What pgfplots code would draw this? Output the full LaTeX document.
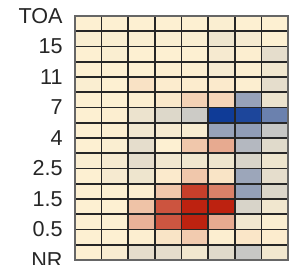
\documentclass[border=0pt]{standalone}
\usepackage{pgfplots}
\pgfplotsset{compat=1.18}
\usepackage{pgfplotstable}
\usepackage{fontspec}
\setmainfont{Liberation Sans}
\pgfplotstableread{
x y c
0.5 0.5 0
1.5 0.5 -0.02
2.5 0.5 -0.1
3.5 0.5 -0.1
4.5 0.5 -0.05
5.5 0.5 -0.12
6.5 0.5 -0.22
7.5 0.5 -0.05
0.5 1.5 0
1.5 1.5 0
2.5 1.5 0.01
3.5 1.5 0.06
4.5 1.5 0.18
5.5 1.5 0.01
6.5 1.5 0.05
7.5 1.5 0.02
0.5 2.5 0
1.5 2.5 0
2.5 2.5 0.3
3.5 2.5 0.75
4.5 2.5 1.0
5.5 2.5 0.34
6.5 2.5 -0.05
7.5 2.5 -0.01
0.5 3.5 0
1.5 3.5 0
2.5 3.5 0.22
3.5 3.5 0.76
4.5 3.5 1.0
5.5 3.5 1.0
6.5 3.5 -0.15
7.5 3.5 -0.05
0.5 4.5 0
1.5 4.5 0
2.5 4.5 0.01
3.5 4.5 0.2
4.5 4.5 0.86
5.5 4.5 0.54
6.5 4.5 -0.43
7.5 4.5 -0.14
0.5 5.5 0
1.5 5.5 -0.03
2.5 5.5 -0.06
3.5 5.5 0.03
4.5 5.5 0.2
5.5 5.5 0.06
6.5 5.5 -0.4
7.5 5.5 -0.1
0.5 6.5 -0.01
1.5 6.5 -0.03
2.5 6.5 -0.1
3.5 6.5 -0.05
4.5 6.5 -0.05
5.5 6.5 -0.06
6.5 6.5 -0.15
7.5 6.5 -0.06
0.5 7.5 0
1.5 7.5 -0.01
2.5 7.5 -0.1
3.5 7.5 0
4.5 7.5 0.2
5.5 7.5 0.34
6.5 7.5 -0.3
7.5 7.5 -0.12
0.5 8.5 0
1.5 8.5 0.01
2.5 8.5 -0.05
3.5 8.5 -0.03
4.5 8.5 -0.02
5.5 8.5 -0.42
6.5 8.5 -0.45
7.5 8.5 -0.22
0.5 9.5 0
1.5 9.5 0.01
2.5 9.5 -0.07
3.5 9.5 -0.13
4.5 9.5 -0.2
5.5 9.5 -0.98
6.5 9.5 -0.92
7.5 9.5 -0.6
0.5 10.5 0
1.5 10.5 0
2.5 10.5 0.01
3.5 10.5 0.04
4.5 10.5 0.15
5.5 10.5 0.13
6.5 10.5 -0.42
7.5 10.5 -0.07
0.5 11.5 -0.01
1.5 11.5 0
2.5 11.5 0.07
3.5 11.5 0.02
4.5 11.5 0.02
5.5 11.5 0.03
6.5 11.5 0.01
7.5 11.5 -0.1
0.5 12.5 0
1.5 12.5 0
2.5 12.5 0
3.5 12.5 0.01
4.5 12.5 0.01
5.5 12.5 -0.03
6.5 12.5 0.01
7.5 12.5 -0.05
0.5 13.5 0
1.5 13.5 -0.01
2.5 13.5 0
3.5 13.5 0
4.5 13.5 0
5.5 13.5 -0.03
6.5 13.5 0.01
7.5 13.5 -0.1
0.5 14.5 -0.01
1.5 14.5 -0.01
2.5 14.5 -0.01
3.5 14.5 -0.01
4.5 14.5 -0.01
5.5 14.5 -0.06
6.5 14.5 -0.03
7.5 14.5 0
0.5 15.5 0
1.5 15.5 0
2.5 15.5 0
3.5 15.5 0
4.5 15.5 0
5.5 15.5 -0.01
6.5 15.5 0
7.5 15.5 0
}\heat
\begin{document}
\begin{tikzpicture}
\begin{axis}[
  scale only axis,
  width=106.5pt, height=122pt,
  xmin=0, xmax=8, ymin=0, ymax=16,
  colormap={div}{rgb255(0cm)=(10,55,150); rgb255(1cm)=(253,240,210); rgb255(2cm)=(189,34,16)},
  point meta min=-1, point meta max=1,
  xtick={0,...,8}, xticklabels={},
  ytick={0,...,16},
  yticklabels={NR,,0.5,,1.5,,2.5,,4,,7,,11,,15,,TOA},
  major tick length=0pt,
  grid=major,
  major grid style={black!85, line width=0.8pt},
  axis line style={black!60, line width=0.8pt},
  axis on top,
  tick label style={font=\fontsize{10.8}{12}\selectfont, text=black!85},
  yticklabel style={inner sep=0pt, xshift=-6pt},
]
\addplot[matrix plot*, mesh/cols=8, point meta=explicit] table[x=x, y=y, meta=c] {\heat};
\coordinate (sw) at (rel axis cs:0,0);
\coordinate (ne) at (rel axis cs:1,1);
\end{axis}
\pgfresetboundingbox
\useasboundingbox ([xshift=-37.5pt, yshift=-2pt]sw) rectangle ([xshift=4pt, yshift=8pt]ne);
\end{tikzpicture}
\end{document}
